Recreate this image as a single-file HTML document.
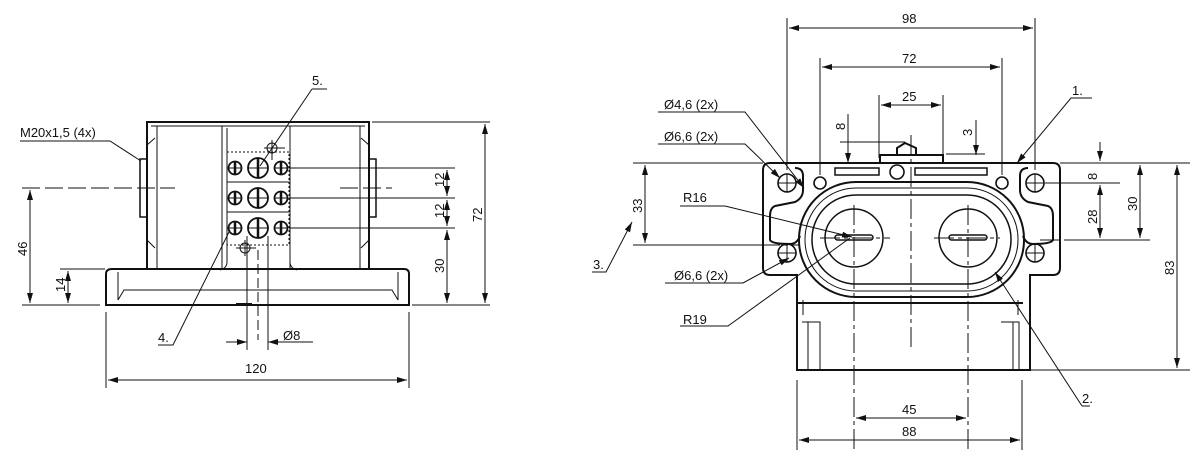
<!DOCTYPE html>
<html><head><meta charset="utf-8"><style>
body{margin:0;background:#fff}
svg{display:block}
text{font-family:"Liberation Sans",sans-serif;font-size:13px;fill:#111}
</style></head><body>
<svg width="1200" height="471" viewBox="0 0 1200 471" xmlns="http://www.w3.org/2000/svg">
<defs>
<marker id="a" viewBox="0 0 10 6" refX="10" refY="3" markerWidth="10" markerHeight="6" orient="auto-start-reverse" markerUnits="userSpaceOnUse"><path d="M0,0L10,3L0,6z" fill="#111"/></marker>
</defs>
<g fill="none" stroke="#111" stroke-width="1">
<!-- LEFT VIEW -->
<g stroke-width="2">
<rect x="147" y="122" width="222" height="147"/>
<path d="M106,274 Q106,269 112,269 L404,269 Q409,269 409,274 L409,305 L106,305 Z"/>
</g>
<path d="M157,126 V269 M222,126 V269 M290,126 V269 M360,126 V269 M151,126 H365"/>
<path d="M227,128 V262 Q227,268 220,270 M290,128 V262 Q290,268 297,270"/>
<path d="M118,300 L124,290 H392 L398,300 M118,272 V300 M398,272 V300"/>
<path d="M147,145 L155,138 M147,240 L155,248 M369,145 L361,138 M369,240 L361,248"/>
<rect x="140" y="159" width="7" height="58" stroke-width="1.5"/>
<rect x="369" y="159" width="7" height="58" stroke-width="1.5"/>
<rect x="227" y="152" width="62" height="93" stroke-dasharray="2,2"/>
<path d="M227,182 H289 M227,212 H289"/>
<g stroke-width="1.8">
<circle cx="235" cy="168" r="6.5"/><circle cx="258" cy="168" r="10"/><circle cx="281" cy="168" r="6.5"/>
<circle cx="235" cy="198" r="6.5"/><circle cx="258" cy="198" r="10"/><circle cx="281" cy="198" r="6.5"/>
<circle cx="235" cy="228" r="6.5"/><circle cx="258" cy="228" r="10"/><circle cx="281" cy="228" r="6.5"/>
</g>
<path d="M235,161 V175 M258,158 V178 M281,161 V175 M235,191 V205 M258,188 V208 M281,191 V205 M235,221 V235 M258,218 V238 M281,221 V235" stroke-width="2.5"/>
<path d="M229,168 H241 M248,168 H268 M275,168 H287 M229,198 H241 M248,198 H268 M275,198 H287 M229,228 H241 M248,228 H268 M275,228 H287"/>
<circle cx="272" cy="148" r="5"/><circle cx="245" cy="248" r="5"/>
<path d="M264,148 H285 M272,140 V160 M236,248 H256 M245,240 V256"/>
<path d="M258,250 V340" stroke-dasharray="10,4"/>
<path d="M236,304 H252" stroke-width="2"/>
<path d="M22,188 H175 M340,188 H392" stroke-dasharray="18,5"/>
<!-- dims left -->
<path d="M289,168 H455 M289,198 H455 M289,228 H455 M372,122 H490 M412,305 H490 M22,305 H100 M60,269 H105"/>
<path d="M30,190 V303" marker-start="url(#a)" marker-end="url(#a)"/>
<path d="M68,271 V303" marker-start="url(#a)" marker-end="url(#a)"/>
<path d="M485,124 V303" marker-start="url(#a)" marker-end="url(#a)"/>
<path d="M447,170 V196" marker-start="url(#a)" marker-end="url(#a)"/>
<path d="M447,200 V226" marker-start="url(#a)" marker-end="url(#a)"/>
<path d="M447,230 V303" marker-start="url(#a)" marker-end="url(#a)"/>
<path d="M106,312 V388 M409,312 V388"/>
<path d="M108,380 H407" marker-start="url(#a)" marker-end="url(#a)"/>
<path d="M247,236 V350 M268,236 V350"/>
<path d="M226,342 H247" marker-end="url(#a)"/>
<path d="M313,342 H268" marker-end="url(#a)"/>
<path d="M20,141 H110 L141,161"/>
<path d="M312,89 H327 M312,89 L260,166"/>
<path d="M158,345 H173 L230,230"/>
<!-- RIGHT VIEW -->
<g stroke-width="2">
<path d="M770,163 H1053 Q1060,163 1060,170 V268 Q1060,275 1053,275 H1030 V370 H797 V275 H770 Q763,275 763,268 V170 Q763,163 770,163 Z"/>
<path d="M880,163 V155 H943 V163 M897,155 V148 L905,143 L916,148 V155"/>
<rect x="799" y="182" width="225" height="115" rx="57"/>
<path d="M797,303 H1023"/>
</g>
<rect x="805" y="188" width="213" height="103" rx="51"/>
<rect x="812" y="195" width="199" height="89" rx="44" stroke-width="1.5"/>
<circle cx="854" cy="238" r="29" stroke-width="1.5"/>
<circle cx="968" cy="238" r="29" stroke-width="1.5"/>
<rect x="835" y="235" width="38" height="5" rx="2.5" stroke-width="1.5"/>
<rect x="949" y="235" width="38" height="5" rx="2.5" stroke-width="1.5"/>
<rect x="835" y="168" width="44" height="7" stroke-width="1.5"/>
<rect x="915" y="168" width="72" height="7" stroke-width="1.5"/>
<path d="M795,168 Q803,168 803,176 V190 Q803,198 795,202 L775,206 Q770,208 770,216 V240 Q772,244 790,244 Q797,244 800,236 M1028,168 Q1020,168 1020,176 V190 Q1020,198 1028,202 L1048,206 Q1053,208 1053,216 V240 Q1051,244 1033,244 Q1026,244 1023,236" stroke-width="2"/>
<g stroke-width="1.6">
<circle cx="787" cy="183" r="9"/><circle cx="1035" cy="183" r="9"/>
<circle cx="787" cy="253" r="9"/><circle cx="1035" cy="253" r="9"/>
<circle cx="820" cy="183" r="6"/><circle cx="1002" cy="183" r="6"/><circle cx="897" cy="172" r="7"/>
</g>
<path d="M787,174 V192 M778,183 H796 M1035,174 V192 M1026,183 H1044 M787,244 V262 M778,253 H796 M1035,244 V262 M1026,253 H1044"/>
<path d="M803,300 V315 M1018,300 V315 M802,322 H820 V370 M1001,322 H1019 V370 M808,322 V370 M1013,322 V370"/>
<path d="M911,135 V350 M854,205 V450 M968,205 V450 M820,238 H890 M934,238 H1000 M760,245 H800 M1040,240 H1065" stroke-dasharray="20,4,4,4"/>
<!-- dims right -->
<path d="M787,18 V170 M1035,18 V170 M820,58 V175 M1002,58 V175 M879,95 V158 M943,95 V158"/>
<path d="M789,28 H1033" marker-start="url(#a)" marker-end="url(#a)"/>
<path d="M822,67 H1000" marker-start="url(#a)" marker-end="url(#a)"/>
<path d="M881,105 H941" marker-start="url(#a)" marker-end="url(#a)"/>
<path d="M848,114 V163" marker-end="url(#a)"/><path d="M840,142 H905"/>
<path d="M976,120 V155" marker-end="url(#a)"/><path d="M946,154 H985"/>
<path d="M633,163 H763 M633,245 H760 M1060,163 H1190 M1045,183 H1120 M1065,240 H1150 M1030,370 H1190"/>
<path d="M645,165 V243" marker-start="url(#a)" marker-end="url(#a)"/>
<path d="M1100,142 V161" marker-end="url(#a)"/><path d="M1100,185 V238" marker-start="url(#a)" marker-end="url(#a)"/>
<path d="M1140,165 V238" marker-start="url(#a)" marker-end="url(#a)"/>
<path d="M1177,165 V368" marker-start="url(#a)" marker-end="url(#a)"/>
<path d="M797,380 V450 M1022,380 V450"/>
<path d="M799,440 H1020" marker-start="url(#a)" marker-end="url(#a)"/>
<path d="M856,418 H966" marker-start="url(#a)" marker-end="url(#a)"/>
<!-- leaders -->
<path d="M658,112 H745 L804,188" marker-end="url(#a)"/>
<path d="M658,144 H745 L780,178" marker-end="url(#a)"/>
<path d="M680,206 H725 L852,237" marker-end="url(#a)"/>
<path d="M665,283 H743 L789,258" marker-end="url(#a)"/>
<path d="M680,326 H728 L850,238"/>
<path d="M592,272 H606 L632,222" marker-end="url(#a)"/>
<path d="M1092,98 H1071 L1017,163" marker-end="url(#a)"/>
<path d="M1082,406 H1090 M1082,406 L995,272" marker-end="url(#a)"/>
</g>
<text x="20" y="137">M20x1,5 (4x)</text>
<text x="312" y="85">5.</text>
<text x="158" y="342">4.</text>
<text x="245" y="373">120</text>
<text x="283" y="340">Ø8</text>
<text transform="translate(27,256) rotate(-90)">46</text>
<text transform="translate(65,292) rotate(-90)">14</text>
<text transform="translate(444,187) rotate(-90)">12</text>
<text transform="translate(444,218) rotate(-90)">12</text>
<text transform="translate(444,273) rotate(-90)">30</text>
<text transform="translate(482,222) rotate(-90)">72</text>
<text x="902" y="23">98</text>
<text x="902" y="63">72</text>
<text x="902" y="101">25</text>
<text transform="translate(845,130) rotate(-90)">8</text>
<text transform="translate(972,136) rotate(-90)">3</text>
<text x="664" y="109">Ø4,6 (2x)</text>
<text x="664" y="141">Ø6,6 (2x)</text>
<text x="683" y="202">R16</text>
<text x="674" y="280">Ø6,6 (2x)</text>
<text x="683" y="324">R19</text>
<text x="593" y="269">3.</text>
<text transform="translate(642,213) rotate(-90)">33</text>
<text x="1072" y="95">1.</text>
<text x="1082" y="403">2.</text>
<text transform="translate(1097,180) rotate(-90)">8</text>
<text transform="translate(1097,224) rotate(-90)">28</text>
<text transform="translate(1137,211) rotate(-90)">30</text>
<text transform="translate(1174,275) rotate(-90)">83</text>
<text x="902" y="414">45</text>
<text x="902" y="436">88</text>
</svg>
</body></html>
